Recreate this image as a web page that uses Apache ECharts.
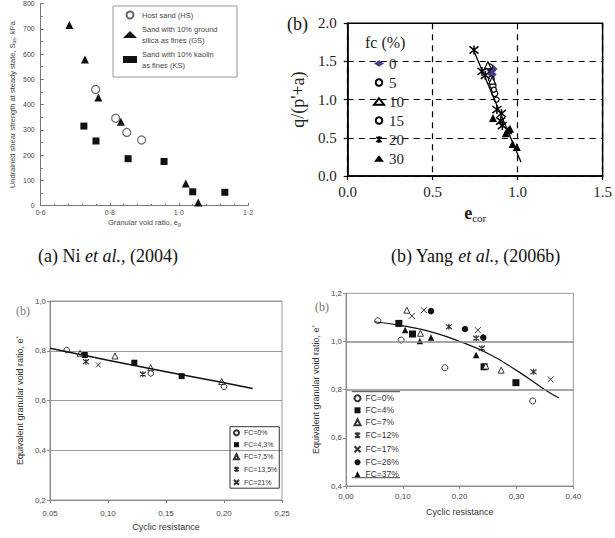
<!DOCTYPE html>
<html>
<head>
<meta charset="utf-8">
<script src="https://cdn.jsdelivr.net/npm/echarts@6/dist/echarts.min.js"></script>
<style>
  html, body { margin: 0; padding: 0; background: #fff; }
  #c { width: 615px; height: 538px; }
</style>
</head>
<body>
<div id="c"></div>
<script>
// (a) Ni et al. 2004 — S_us vs granular void ratio
const hsSand = [[0.759, 460], [0.817, 346], [0.849, 290], [0.892, 260]];
const gsSand = [[0.683, 715], [0.728, 578], [0.767, 428], [0.832, 332], [1.02, 88], [1.056, 13]];
const ksSand = [[0.725, 315], [0.760, 256], [0.853, 186], [0.957, 175], [1.04, 55], [1.133, 53]];

// (b) Yang et al. 2006b — q/(p'+a) vs e_cor
const fc0 = [[0.845, 1.38], [0.855, 1.40], [0.85, 1.33]];
const fc5 = [[0.835, 1.43], [0.845, 1.27], [0.855, 1.18], [0.865, 1.08]];
const fc10 = [[0.825, 1.45], [0.85, 1.25]];
const fc15 = [[0.876, 1.0], [0.86, 1.13]];
const fc20 = [[0.743, 1.65], [0.79, 1.37], [0.81, 1.32], [0.878, 0.87], [0.905, 0.82], [0.90, 0.72], [0.91, 0.66]];
const fc30 = [[0.855, 0.76], [0.93, 0.56], [0.945, 0.6], [0.955, 0.62], [0.97, 0.42], [0.995, 0.38]];
const yangFit = [[0.74, 1.65], [1.02, 0.18]];

// bottom-left: Ni et al. cyclic resistance
const ni0 = [[0.0644, 0.803], [0.1368, 0.709], [0.200, 0.655]];
const ni43 = [[0.080, 0.783], [0.1227, 0.752], [0.1635, 0.698]];
const ni75 = [[0.0759, 0.79], [0.106, 0.779], [0.1368, 0.732], [0.198, 0.676]];
const ni135 = [[0.081, 0.756], [0.130, 0.706]];
const ni21 = [[0.0917, 0.743]];
const niFit = [[0.05, 0.81], [0.10, 0.762], [0.15, 0.716], [0.20, 0.671], [0.2247, 0.648]];

// bottom-right: Yang et al. cyclic resistance
const ya0 = [[0.056, 1.086], [0.097, 1.006], [0.174, 0.891], [0.3285, 0.753]];
const ya4 = [[0.093, 1.075], [0.117, 1.031], [0.243, 0.895], [0.299, 0.829]];
const ya7 = [[0.107, 1.13], [0.131, 1.034], [0.246, 0.898], [0.273, 0.881]];
const ya12 = [[0.181, 1.061], [0.239, 0.972], [0.229, 1.014], [0.330, 0.874]];
const ya17 = [[0.116, 1.106], [0.137, 1.13], [0.232, 1.047], [0.360, 0.843]];
const ya26 = [[0.1496, 1.126], [0.2094, 1.052], [0.2416, 1.016]];
const ya37 = [[0.104, 1.048], [0.130, 1.002], [0.1496, 1.017], [0.229, 0.944]];
const yangCurve = [[0.05, 1.082], [0.10, 1.065], [0.15, 1.04], [0.20, 1.00], [0.25, 0.95], [0.30, 0.88], [0.35, 0.80], [0.375, 0.765]];
const yangGridY = [1.0, 0.8];

const SANS = 'Liberation Sans, Arial, sans-serif';
const SERIF = 'Liberation Serif, Times New Roman, serif';
const STAR = 'path://M0,1L8,9M8,1L0,9M4,0L4,10';
const CROSS = 'path://M0,0L8,8M8,0L0,8';
const GREY = '#474747';

const dot = (v) => v.toFixed(1).replace('.', '·');
const comma = (d) => (v) => v.toFixed(d).replace('.', ',');

function pts(name, data, xi, symbol, size, fill, stroke, bw) {
  return {
    type: 'scatter', name, data, xAxisIndex: xi, yAxisIndex: xi,
    symbol, symbolSize: size, silent: true,
    itemStyle: { color: fill, borderColor: stroke || fill, borderWidth: bw || 0, opacity: 1 },
  };
}

function smallAxis(min, max, interval, fmt, extra) {
  return Object.assign({
    type: 'value', min, max, interval,
    axisLine: { show: true, lineStyle: { color: '#888', width: 1 } },
    axisTick: { show: true, length: 3, lineStyle: { color: '#888' } },
    axisLabel: { formatter: fmt, fontSize: 8, color: GREY, fontFamily: SANS, margin: 5 },
    splitLine: { show: false },
    nameTextStyle: { fontSize: 9, color: '#333', fontFamily: SANS },
    nameLocation: 'middle',
  }, extra);
}

const chart = echarts.init(document.getElementById('c'), null, { renderer: 'svg' });
chart.setOption({
  animation: false,
  backgroundColor: '#fff',
  grid: [
    { left: 40.7, top: -3, width: 207.3, height: 208.7 },
    { left: 347.7, top: 23.3, width: 255, height: 152.7, show: true, borderColor: '#000', borderWidth: 1.5 },
    { left: 50, top: 301, width: 232, height: 199, show: true, borderColor: '#999', borderWidth: 1 },
    { left: 346, top: 293.3, width: 227.3, height: 192.7, show: true, borderColor: '#999', borderWidth: 1 },
  ],
  xAxis: [
    {
      type: 'value', gridIndex: 0, min: 0.6, max: 1.2, interval: 0.2,
      axisLine: { lineStyle: { color: '#777' } },
      axisTick: { inside: true, length: 3, lineStyle: { color: '#777' } },
      minorTick: { show: true, splitNumber: 5, length: 2, lineStyle: { color: '#777' } },
      axisLabel: { formatter: dot, fontSize: 7, color: GREY, fontFamily: SANS, margin: 3 },
      splitLine: { show: false },
      name: 'Granular void ratio, e{s|g}', nameLocation: 'middle', nameGap: 12,
      nameTextStyle: { fontSize: 7.5, color: GREY, fontFamily: SANS, rich: { s: { fontSize: 5, color: GREY, padding: [4, 0, 0, 0] } } },
    },
    {
      type: 'value', gridIndex: 1, min: 0, max: 1.5, interval: 0.5,
      axisLine: { lineStyle: { color: '#000', width: 1.5 } },
      axisTick: { length: 4, lineStyle: { color: '#000', width: 1.2 } },
      axisLabel: { formatter: (v) => v.toFixed(1), fontSize: 15, color: '#222', fontFamily: SERIF, margin: 8 },
      splitLine: { show: true, lineStyle: { color: '#000', type: [6, 5], width: 1.2 } },
      name: '{e|e}{s|cor}', nameLocation: 'middle', nameGap: 26,
      nameTextStyle: { rich: {
        e: { fontSize: 18, fontWeight: 'bold', fontFamily: SERIF, color: '#222' },
        s: { fontSize: 11, fontFamily: SERIF, color: '#222', padding: [10, 0, 0, 0] },
      } },
    },
    smallAxis(0.05, 0.25, 0.05, comma(2), { gridIndex: 2, name: 'Cyclic resistance', nameGap: 22, axisLabel: { formatter: comma(2), fontSize: 8, color: GREY, fontFamily: SANS, margin: 9 } }),
    smallAxis(0, 0.4, 0.1, comma(2), { gridIndex: 3, name: 'Cyclic resistance', nameGap: 21, axisLabel: { formatter: comma(2), fontSize: 8, color: GREY, fontFamily: SANS, margin: 6 } }),
  ],
  yAxis: [
    {
      type: 'value', gridIndex: 0, min: 0, max: 800, interval: 100,
      axisLine: { show: true, lineStyle: { color: '#777' } },
      axisTick: { show: true, inside: true, length: 3, lineStyle: { color: '#777' } },
      minorTick: { show: true, splitNumber: 2, length: 2, lineStyle: { color: '#777' } },
      axisLabel: { fontSize: 7, color: GREY, fontFamily: SANS, margin: 6 },
      splitLine: { show: false },
      name: 'Undrained shear strength at steady state, S{s|us}: kPa', nameLocation: 'middle', nameGap: 24,
      nameTextStyle: { fontSize: 7.5, color: GREY, fontFamily: SANS, rich: { s: { fontSize: 5, color: GREY, padding: [4, 0, 0, 0] } } },
    },
    {
      type: 'value', gridIndex: 1, min: 0, max: 2, interval: 0.5,
      axisLine: { show: true, lineStyle: { color: '#000', width: 1.5 } },
      axisTick: { show: true, length: 4, lineStyle: { color: '#000', width: 1.2 } },
      axisLabel: { formatter: (v) => v.toFixed(1), fontSize: 15, color: '#222', fontFamily: SERIF, margin: 11 },
      splitLine: { show: true, lineStyle: { color: '#000', type: [6, 5], width: 1.2 } },
      name: "q/(p'+a)", nameLocation: 'middle', nameGap: 41,
      nameTextStyle: { fontSize: 18, color: '#222', fontFamily: SERIF },
    },
    smallAxis(0.2, 1.0, 0.2, comma(1), {
      gridIndex: 2, name: 'Equivalent granular void ratio, e{s|*}', nameGap: 25,
      splitLine: { show: true, lineStyle: { color: '#999', width: 1 } },
      axisLabel: { formatter: comma(1), fontSize: 8, color: GREY, fontFamily: SANS, margin: 4 },
      nameTextStyle: { fontSize: 9, color: '#333', fontFamily: SANS, rich: { s: { fontSize: 6, color: '#333', padding: [0, 0, 4, 0] } } },
    }),
    smallAxis(0.4, 1.2, 0.2, comma(1), {
      gridIndex: 3, name: 'Equivalent granular void ratio, e{s|*}', nameGap: 25,
      axisLabel: { formatter: comma(1), fontSize: 8, color: GREY, fontFamily: SANS, margin: 4 },
      nameTextStyle: { fontSize: 9, color: '#333', fontFamily: SANS, rich: { s: { fontSize: 6, color: '#333', padding: [0, 0, 4, 0] } } },
    }),
  ],
  legend: [
    {
      data: ['Host sand (HS)', 'Sand with 10% ground\nsilica as fines (GS)', 'Sand with 10% kaolin\nas fines (KS)'],
      orient: 'vertical', left: 123, top: 9.5, padding: 0, itemGap: 3, itemWidth: 14, itemHeight: 7,
      selectedMode: false, textStyle: { fontSize: 7.5, lineHeight: 11, color: GREY, fontFamily: SANS },
    },
    {
      data: ['0', '5', '10', '15', '20', '30'],
      orient: 'vertical', left: 373, top: 56, padding: 0, itemGap: 4, itemWidth: 10, itemHeight: 6.5,
      selectedMode: false, textStyle: { fontSize: 15, color: '#222', fontFamily: SERIF },
    },
    {
      data: ['FC=0%', 'FC=4,3%', 'FC=7,5%', 'FC=13,5%', 'FC=21%'],
      orient: 'vertical', left: 230, top: 426.7, padding: [1.5, 2, 1, 1.5], itemGap: 3, itemWidth: 5, itemHeight: 5,
      borderColor: '#333', borderWidth: 1,
      selectedMode: false, textStyle: { fontSize: 7, lineHeight: 9, color: '#333', fontFamily: SANS },
    },
    {
      data: ['FC=0% ', 'FC=4%', 'FC=7%', 'FC=12%', 'FC=17%', 'FC=26%', 'FC=37%'],
      orient: 'vertical', left: 352, top: 393.8, padding: 0, itemGap: 3, itemWidth: 6, itemHeight: 6,
      selectedMode: false, textStyle: { fontSize: 8.5, lineHeight: 9, color: '#333', fontFamily: SANS },
    },
  ],
  graphic: [
    { type: 'text', left: 38, top: 247, style: { text: '(a) Ni {i|et al.}, (2004)', fontSize: 18, fontFamily: SERIF, fill: '#111', rich: { i: { fontSize: 18, fontStyle: 'italic', fontFamily: SERIF, fill: '#111' } } } },
    { type: 'text', left: 391, top: 247, style: { text: '(b) Yang {i|et al.}, (2006b)', fontSize: 18, fontFamily: SERIF, fill: '#111', rich: { i: { fontSize: 18, fontStyle: 'italic', fontFamily: SERIF, fill: '#111' } } } },
    { type: 'text', left: 287, top: 15, style: { text: '(b)', fontSize: 18, fontFamily: SERIF, fill: '#111' } },
    { type: 'text', left: 365, top: 34, style: { text: 'fc (%)', fontSize: 16, fontFamily: SERIF, fill: '#222' } },
    { type: 'text', left: 16, top: 305, style: { text: '(b)', fontSize: 12, fontFamily: SERIF, fill: '#777' } },
    { type: 'text', left: 315, top: 301, style: { text: '(b)', fontSize: 12, fontFamily: SERIF, fill: '#777' } },
    { type: 'rect', shape: { x: 113, y: 6, width: 124, height: 71 }, style: { fill: 'none', stroke: '#999', lineWidth: 1 } },
    { type: 'line', shape: { x1: 351.7, y1: 391.7, x2: 400, y2: 391.7 }, style: { stroke: '#444', lineWidth: 1 } },
    { type: 'line', shape: { x1: 351.7, y1: 477.7, x2: 400, y2: 477.7 }, style: { stroke: '#444', lineWidth: 1 } },
  ],
  series: [
    pts('Host sand (HS)', hsSand, 0, 'circle', 8, '#fff', '#666', 1.2),
    pts('Sand with 10% ground\nsilica as fines (GS)', gsSand, 0, 'triangle', 8, '#111'),
    pts('Sand with 10% kaolin\nas fines (KS)', ksSand, 0, 'rect', 7, '#111'),

    { type: 'line', data: yangFit, xAxisIndex: 1, yAxisIndex: 1, symbol: 'none', silent: true, lineStyle: { color: '#000', width: 1.3 } },
    pts('0', fc0, 1, 'diamond', 9, '#4b3a8c'),
    pts('5', fc5, 1, 'circle', 6, '#fff', '#000', 1.2),
    pts('10', fc10, 1, 'triangle', 7, '#fff', '#000', 1.2),
    pts('15', fc15, 1, 'circle', 5, '#fff', '#000', 1.2),
    pts('20', fc20, 1, STAR, 9, 'none', '#000', 1.5),
    pts('30', fc30, 1, 'triangle', 8, '#000'),

    { type: 'line', data: niFit, xAxisIndex: 2, yAxisIndex: 2, symbol: 'none', smooth: true, silent: true, lineStyle: { color: '#111', width: 1.5 } },
    pts('FC=0%', ni0, 2, 'circle', 5.5, '#fff', '#333', 1),
    pts('FC=4,3%', ni43, 2, 'rect', 6, '#111'),
    pts('FC=7,5%', ni75, 2, 'triangle', 6, '#fff', '#333', 1),
    pts('FC=13,5%', ni135, 2, STAR, 6, 'none', '#333', 1.2),
    pts('FC=21%', ni21, 2, CROSS, 5, 'none', '#333', 1),

    {
      type: 'line', data: yangCurve, xAxisIndex: 3, yAxisIndex: 3, symbol: 'none', smooth: true, silent: true,
      lineStyle: { color: '#111', width: 1.2 },
      markLine: { silent: true, symbol: 'none', label: { show: false }, lineStyle: { color: '#888', width: 1.5, type: 'solid' }, data: yangGridY.map((v) => ({ yAxis: v })) },
    },
    pts('FC=0% ', ya0, 3, 'circle', 6, '#fff', '#333', 1),
    pts('FC=4%', ya4, 3, 'rect', 7, '#111'),
    pts('FC=7%', ya7, 3, 'triangle', 6, '#fff', '#333', 1),
    pts('FC=12%', ya12, 3, STAR, 6, 'none', '#333', 1.2),
    pts('FC=17%', ya17, 3, CROSS, 6, 'none', '#333', 1),
    pts('FC=26%', ya26, 3, 'circle', 6.5, '#111'),
    pts('FC=37%', ya37, 3, 'triangle', 6.5, '#111'),
  ],
});
</script>
</body>
</html>
